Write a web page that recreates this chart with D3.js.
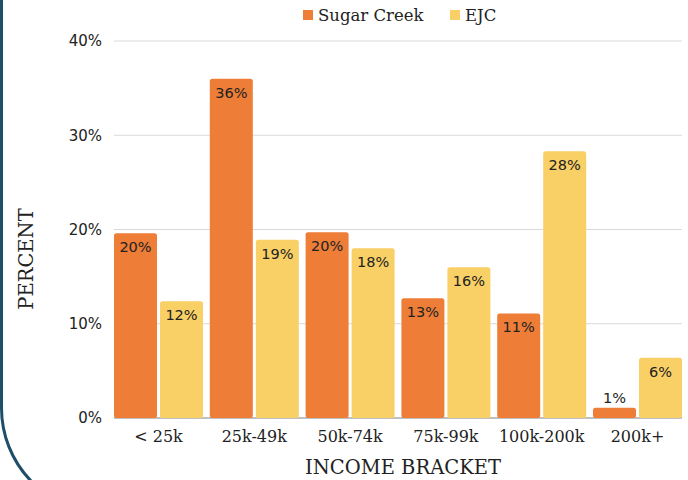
<!DOCTYPE html>
<html>
<head>
<meta charset="utf-8">
<script src="https://cdn.jsdelivr.net/npm/d3@7"></script>
<style>
	body { margin: 0; background: #fff; }
	.chart text { fill: #222; }
	.serif { font-family: "DejaVu Serif", serif; }
	.sans { font-family: "DejaVu Sans", sans-serif; }
</style>
</head>
<body>
<svg class="chart"></svg>
<script>
var brackets = ["< 25k", "25k-49k", "50k-74k", "75k-99k", "100k-200k", "200k+"];
var seriesNames = ["Sugar Creek", "EJC"];
var sugarCreek = [19.6, 36.0, 19.7, 12.7, 11.1, 1.1];
var ejc = [12.4, 18.9, 18.0, 16.0, 28.3, 6.4];
var yTicks = [0, 10, 20, 30, 40];
var colors = ["#ed7d37", "#f9d065"];

var frameWidth = 688;
var frameHeight = 480;
var left = 114;
var groupStep = 95.8;
var groupWidth = 89;
var yBottom = 418;
var yTop = 41;

var data = brackets.map(function(b, i) {
	return { bracket: b, values: [sugarCreek[i], ejc[i]] };
});

var svg = d3.select(".chart")
	.attr("width", frameWidth)
	.attr("height", frameHeight);

var xScale = d3.scaleBand().domain(brackets)
	.range([left, left + groupStep * brackets.length])
	.paddingInner(0).paddingOuter(0);
var xSub = d3.scaleBand().domain(seriesNames)
	.range([0, groupWidth]).paddingInner(3 / 46);
var yScale = d3.scaleLinear().domain([0, 40]).range([yBottom, yTop]);

// left frame edge with rounded corner
svg.append("path")
	.attr("d", "M1.5,-5 L1.5,408 A105,105 0 0 0 106.5,513")
	.attr("fill", "none")
	.attr("stroke", "#1d4e6a")
	.attr("stroke-width", 3);

// gridlines
svg.append("g").selectAll("line").data(yTicks.filter(function(t) { return t > 0; }))
	.enter().append("line")
	.attr("x1", left).attr("x2", 682)
	.attr("y1", function(d) { return yScale(d); })
	.attr("y2", function(d) { return yScale(d); })
	.attr("stroke", "#d9d9d9").attr("stroke-width", 1);

svg.append("line")
	.attr("x1", left).attr("x2", 682)
	.attr("y1", yScale(0)).attr("y2", yScale(0))
	.attr("stroke", "#ababab").attr("stroke-width", 1.5);

// y tick labels
var yAxis = svg.append("g")
	.attr("transform", "translate(" + (left - 12) + ",0)")
	.call(d3.axisLeft(yScale).tickValues(yTicks).tickSize(0).tickPadding(0)
		.tickFormat(function(d) { return d + "%"; }));
yAxis.select(".domain").remove();
yAxis.selectAll("text").attr("class", "sans").style("font-size", "15px").attr("fill", "#222");

// bars
var groups = svg.append("g").selectAll("g").data(data)
	.enter().append("g")
	.attr("transform", function(d) { return "translate(" + xScale(d.bracket) + ",0)"; });

groups.selectAll("rect").data(function(d) { return d.values; })
	.enter().append("rect")
	.attr("x", function(d, i) { return xSub(seriesNames[i]); })
	.attr("y", function(d) { return yScale(d); })
	.attr("width", xSub.bandwidth())
	.attr("height", function(d) { return yScale(0) - yScale(d); })
	.attr("rx", 2.5)
	.attr("fill", function(d, i) { return colors[i]; });

groups.selectAll("text").data(function(d) { return d.values; })
	.enter().append("text")
	.attr("class", "sans")
	.attr("x", function(d, i) { return xSub(seriesNames[i]) + xSub.bandwidth() / 2; })
	.attr("y", function(d) {
		var top = yScale(d);
		return (yScale(0) - top) < 24 ? top - 5 : top + 19;
	})
	.attr("text-anchor", "middle")
	.style("font-size", "14.5px")
	.text(function(d) { return Math.round(d) + "%"; });

// x tick labels
var xAxis = svg.append("g")
	.attr("transform", "translate(0," + yBottom + ")")
	.call(d3.axisBottom(xScale).tickSize(0).tickPadding(13));
xAxis.select(".domain").remove();
xAxis.selectAll(".tick").attr("transform", function(d) {
	return "translate(" + (xScale(d) + groupWidth / 2) + ",0)";
});
xAxis.selectAll("text").attr("class", "serif").style("font-size", "16px").attr("fill", "#222");

// legend
var legendX = [303, 450];
var legend = svg.append("g").selectAll("g").data(seriesNames)
	.enter().append("g")
	.attr("transform", function(d, i) { return "translate(" + legendX[i] + ",15)"; });
legend.append("rect")
	.attr("x", 0).attr("y", -5).attr("width", 10).attr("height", 10)
	.attr("fill", function(d, i) { return colors[i]; });
legend.append("text")
	.attr("class", "serif")
	.attr("x", 15).attr("y", 6)
	.style("font-size", "16.5px")
	.text(function(d) { return d; });

// axis titles
svg.append("text")
	.attr("class", "serif")
	.attr("transform", "translate(403,474)")
	.style("text-anchor", "middle")
	.style("font-size", "19.5px")
	.text("INCOME BRACKET");

svg.append("text")
	.attr("class", "serif")
	.attr("transform", "translate(33,259) rotate(-90)")
	.style("text-anchor", "middle")
	.style("font-size", "19.5px")
	.text("PERCENT");
</script>
</body>
</html>
